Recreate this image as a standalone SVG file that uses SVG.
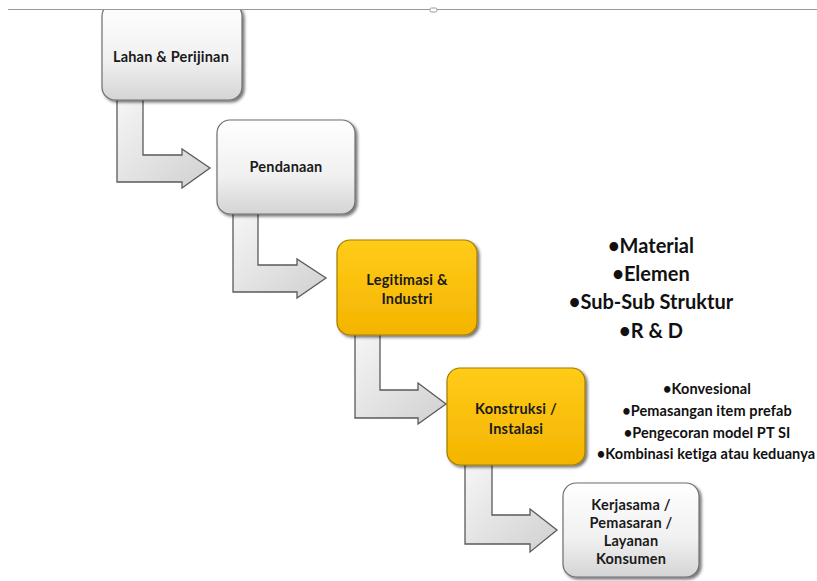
<svg xmlns="http://www.w3.org/2000/svg" width="817" height="581" viewBox="0 0 817 581">
<defs>
<linearGradient id="gGray" x1="0" y1="0" x2="0" y2="1">
<stop offset="0" stop-color="#ffffff"/>
<stop offset="0.6" stop-color="#f0f0f0"/>
<stop offset="1" stop-color="#d4d4d4"/>
</linearGradient>
<linearGradient id="gYel" x1="0" y1="0" x2="0" y2="1">
<stop offset="0" stop-color="#ffcc1a"/>
<stop offset="1" stop-color="#f4b400"/>
</linearGradient>
<linearGradient id="gArrow" x1="0" y1="0" x2="1" y2="1">
<stop offset="0" stop-color="#f6f6f6"/>
<stop offset="1" stop-color="#d0d0d0"/>
</linearGradient>
<filter id="sh" x="-10%" y="-10%" width="125%" height="125%">
<feGaussianBlur in="SourceAlpha" stdDeviation="1.5"/>
<feOffset dx="1.5" dy="2" result="b"/>
<feFlood flood-color="#000" flood-opacity="0.55"/>
<feComposite in2="b" operator="in"/>
<feMerge><feMergeNode/><feMergeNode in="SourceGraphic"/></feMerge>
</filter>
</defs>
<style>
.bx{fill:url(#gGray);stroke:#6e6e6e;stroke-width:1.2;filter:url(#sh)}
.by{fill:url(#gYel);stroke:#a07c00;stroke-width:1.2;filter:url(#sh)}
.ar{fill:url(#gArrow);stroke:#5a5a5a;stroke-width:1.3;stroke-linejoin:miter}
.t{font-family:Lato,"Liberation Sans",sans-serif;font-size:14.5px;font-weight:700;letter-spacing:0.2px;fill:#1a1a1a;text-anchor:middle}
.l1{font-family:Lato,"Liberation Sans",sans-serif;font-size:20px;font-weight:700;fill:#111;text-anchor:middle}
.l2{font-family:Lato,"Liberation Sans",sans-serif;font-size:14.5px;font-weight:700;letter-spacing:0.1px;fill:#111;text-anchor:middle}
</style>
<rect width="817" height="581" fill="#ffffff"/>

<g id="connectors">
<polygon class="ar" points="117,98 143,98 143,155 182,155 182,149 210,168 182,188 182,182 117,182"/>
<polygon class="ar" points="233,213 258,213 258,265 297,265 297,259 326,278 297,298 297,292 233,292"/>
<polygon class="ar" points="355,333 380,333 380,390 418,390 418,383 446,404 418,424 418,418 355,418"/>
<polygon class="ar" points="465,463 492,463 492,515 530,515 530,509 557,530 530,552 530,544 465,544"/>
</g>

<g id="n1">
<rect class="bx" x="102" y="3" width="140" height="97" rx="13"/>
<text class="t" x="171" y="62">Lahan &amp; Perijinan</text>
</g>
<g id="n2">
<rect class="bx" x="217" y="120" width="138" height="94" rx="13"/>
<text class="t" x="286" y="172">Pendanaan</text>
</g>
<g id="n3">
<rect class="by" x="337" y="240" width="140" height="95" rx="13"/>
<text class="t" x="407" y="285">Legitimasi &amp;</text>
<text class="t" x="407" y="304">Industri</text>
</g>
<g id="n4">
<rect class="by" x="447" y="368" width="138" height="97" rx="13"/>
<text class="t" x="516" y="414">Konstruksi /</text>
<text class="t" x="516" y="434">Instalasi</text>
</g>
<g id="n5">
<rect class="bx" x="563" y="483" width="136" height="94" rx="13"/>
<text class="t" x="631" y="510">Kerjasama /</text>
<text class="t" x="631" y="528">Pemasaran /</text>
<text class="t" x="631" y="546">Layanan</text>
<text class="t" x="631" y="564">Konsumen</text>
</g>

<g id="list1">
<text class="l1" x="651" y="253">•Material</text>
<text class="l1" x="651" y="281">•Elemen</text>
<text class="l1" x="651" y="309">•Sub-Sub Struktur</text>
<text class="l1" x="651" y="338">•R &amp; D</text>
</g>
<g id="list2">
<text class="l2" x="707" y="394">•Konvesional</text>
<text class="l2" x="707" y="416">•Pemasangan item prefab</text>
<text class="l2" x="707" y="438">•Pengecoran model PT SI</text>
<text class="l2" x="706" y="459">•Kombinasi ketiga atau keduanya</text>
</g>

<rect x="0" y="0" width="817" height="9" fill="#ffffff"/>
<line x1="8" y1="9.5" x2="817" y2="9.5" stroke="#9a9a9a" stroke-width="1.2"/>
<rect x="430" y="8" width="7" height="4" rx="1.5" fill="#fff" stroke="#9a9a9a" stroke-width="1"/>
</svg>
